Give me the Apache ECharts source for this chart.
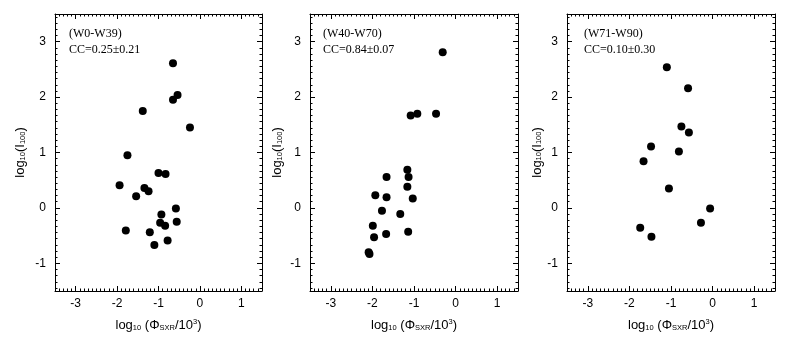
<!DOCTYPE html>
<html>
<head>
<meta charset="utf-8">
<script src="https://cdn.jsdelivr.net/npm/echarts@6/dist/echarts.min.js"></script>
<style>
  html, body { margin: 0; padding: 0; background: #fff; }
  #chart { width: 792px; height: 346px; }
</style>
</head>
<body>
<div id="chart"></div>
<script>
// panel (W0-W39)
var w0X = [-0.65, -0.54, -0.65, -1.38, -0.24, -1.75, -1.00, -0.83, -1.94, -1.34, -1.24,
  -1.54, -0.58, -0.93, -0.96, -0.56, -0.84, -1.79, -1.21, -0.78, -1.10]
var w0Y = [2.61, 2.04, 1.95, 1.75, 1.45, 0.95, 0.63, 0.61, 0.41, 0.36, 0.30,
  0.21, -0.01, -0.12, -0.27, -0.25, -0.32, -0.41, -0.44, -0.59, -0.67]
// panel (W40-W70)
var w40X = [-0.31, -0.47, -0.92, -1.08, -1.16, -1.13, -1.66, -1.16, -1.93, -1.66,
  -1.03, -1.77, -1.33, -1.99, -1.14, -1.67, -1.96, -2.09, -2.07]
var w40Y = [2.81, 1.70, 1.70, 1.67, 0.69, 0.56, 0.56, 0.38, 0.23, 0.19,
  0.17, -0.05, -0.11, -0.32, -0.43, -0.47, -0.53, -0.80, -0.83]
// panel (W71-W90)
var w71X = [-1.10, -0.59, -0.75, -0.57, -1.48, -0.81, -1.66, -1.05, -0.06, -0.28, -1.74, -1.47]
var w71Y = [2.54, 2.16, 1.47, 1.36, 1.11, 1.02, 0.84, 0.35, -0.01, -0.27, -0.36, -0.52]

var panelNames = ['(W0-W39)', '(W40-W70)', '(W71-W90)']
var ccLabels = ['CC=0.25\u00b10.21', 'CC=0.84\u00b10.07', 'CC=0.10\u00b10.30']

var xMajor = [-3, -2, -1, 0, 1]
var yMajor = [-1, 0, 1, 2, 3]
var xRange = [-3.5, 1.5]
var yRange = [-1.5, 3.5]

// minor tick positions: 0.1 on x, 1/9 on y
var xMinor = []
for (var i = -35; i <= 15; i++) xMinor.push(i / 10)
var yMinor = []
for (var j = -13; j <= 31; j++) yMinor.push(j / 9)

var boxes = [
  { left: 55, top: 14, width: 207, height: 277 },
  { left: 310, top: 14, width: 208, height: 277 },
  { left: 567, top: 14, width: 208, height: 277 }
]
var yNameGap = [28, 26, 22]
var textLeft = [69, 323, 584]

var sans = 'Liberation Sans, Arial, sans-serif'
var serif = 'Liberation Serif, Times New Roman, serif'

var grids = []
var xAxes = []
var yAxes = []

function hiddenAxis(dim, gi) {
  return {
    type: 'value', gridIndex: gi, show: false,
    min: dim === 'x' ? xRange[0] : yRange[0],
    max: dim === 'x' ? xRange[1] : yRange[1]
  }
}

function tickAxis(dim, gi, opt) {
  var isX = dim === 'x'
  var range = isX ? xRange : yRange
  var ax = {
    type: 'value',
    gridIndex: gi,
    position: opt.pos,
    min: range[0],
    max: range[1],
    splitLine: { show: false },
    axisLine: { show: !!opt.line, onZero: false, lineStyle: { color: '#000', width: 1 } },
    axisTick: {
      show: !!opt.ticks,
      inside: false,
      length: opt.major ? 5 : 2.5,
      customValues: opt.major ? (isX ? xMajor : yMajor) : (isX ? xMinor : yMinor),
      lineStyle: { color: '#000', width: 1 }
    },
    axisLabel: {
      show: !!opt.label,
      customValues: isX ? xMajor : yMajor,
      color: '#000',
      fontFamily: sans,
      fontSize: 12,
      margin: isX ? 7 : 9
    },
    axisPointer: { show: false }
  }
  if (opt.name) {
    ax.name = opt.name
    ax.nameLocation = 'middle'
    ax.nameGap = opt.gap
    ax.nameTextStyle = {
      color: '#000',
      fontFamily: sans,
      fontSize: 13,
      rich: {
        n: { fontFamily: sans, fontSize: 13, color: '#000' },
        s: { fontFamily: sans, fontSize: 7.5, color: '#000', padding: [5, 0, 0, 0] },
        p: { fontFamily: sans, fontSize: 7.5, color: '#000', padding: [0, 0, 6, 0] }
      }
    }
    if (!isX) ax.nameRotate = 90
  }
  return ax
}

function addGrid(rect, xa, ya) {
  var gi = grids.length
  grids.push(rect)
  xAxes.push(xa ? tickAxis('x', gi, xa) : hiddenAxis('x', gi))
  yAxes.push(ya ? tickAxis('y', gi, ya) : hiddenAxis('y', gi))
  return gi
}

var mainGrid = []
var graphics = []
boxes.forEach(function (b, k) {
  // main box: frame lines, tick labels, axis names
  mainGrid.push(addGrid(b,
    { pos: 'bottom', line: true, label: true,
      name: '{n|log}{s|10}{n| (\u03a6}{s|SXR}{n|/10}{p|3}{n|)}', gap: 27 },
    { pos: 'left', line: true, label: true,
      name: '{n|log}{s|10}{n|(I}{s|100}{n|)}', gap: yNameGap[k] }))

  // thin grids along each edge, their ticks pointing into the box
  var topRect = { left: b.left, top: b.top - 1, width: b.width, height: 1 }
  var bottomRect = { left: b.left, top: b.top + b.height, width: b.width, height: 1 }
  var leftRect = { left: b.left - 1, top: b.top, width: 1, height: b.height }
  var rightRect = { left: b.left + b.width, top: b.top, width: 1, height: b.height }
  ;[true, false].forEach(function (major) {
    addGrid(topRect, { pos: 'bottom', ticks: true, major: major, line: major }, null)
    addGrid(bottomRect, { pos: 'top', ticks: true, major: major }, null)
    addGrid(leftRect, null, { pos: 'right', ticks: true, major: major })
    addGrid(rightRect, null, { pos: 'left', ticks: true, major: major, line: major })
  })

  graphics.push({
    type: 'text', left: textLeft[k], top: 28,
    style: { text: panelNames[k], font: '12px ' + serif, fill: '#000' }
  })
  graphics.push({
    type: 'text', left: textLeft[k], top: 44,
    style: { text: ccLabels[k], font: '12px ' + serif, fill: '#000' }
  })
})

function pairs(xs, ys) {
  return xs.map(function (x, k) { return [x, ys[k]] })
}

var seriesData = [pairs(w0X, w0Y), pairs(w40X, w40Y), pairs(w71X, w71Y)]
var seriesList = seriesData.map(function (d, k) {
  return {
    type: 'scatter',
    xAxisIndex: mainGrid[k],
    yAxisIndex: mainGrid[k],
    data: d,
    symbol: 'circle',
    symbolSize: 8,
    itemStyle: { color: '#000', opacity: 1 },
    silent: true
  }
})

var chart = echarts.init(document.getElementById('chart'))
chart.setOption({
  animation: false,
  backgroundColor: '#fff',
  grid: grids,
  xAxis: xAxes,
  yAxis: yAxes,
  graphic: graphics,
  series: seriesList
})
</script>
</body>
</html>
